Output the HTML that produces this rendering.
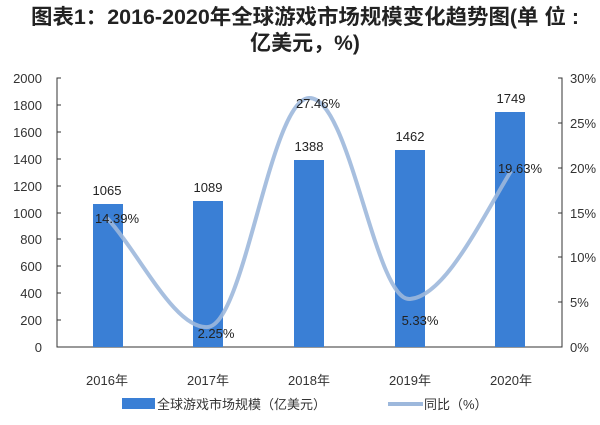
<!DOCTYPE html>
<html><head><meta charset="utf-8"><style>
body{margin:0;background:#fff;}
svg text{font-family:"Liberation Sans","Noto Sans CJK SC",sans-serif;}
</style></head><body>
<svg width="600" height="420" xmlns="http://www.w3.org/2000/svg">
<text x="305" y="24" text-anchor="middle" font-size="21" font-weight="bold" fill="#222" textLength="548" lengthAdjust="spacingAndGlyphs">图表1：2016-2020年全球游戏市场规模变化趋势图(单 位 :</text>
<text x="305" y="50" text-anchor="middle" font-size="21" font-weight="bold" fill="#222">亿美元，%)</text>
<g stroke="#333" stroke-width="1" fill="none">
<path d="M61,78 H57 V347 H562 V78 H558"/>
<path d="M57,105H61M57,132H61M57,159H61M57,186H61M57,213H61M57,239H61M57,266H61M57,293H61M57,320H61"/>
<path d="M562,123H558M562,168H558M562,213H558M562,257H558M562,302H558"/>
</g>
<g font-size="13" fill="#333" text-anchor="end">
<text x="42" y="83">2000</text><text x="42" y="110">1800</text><text x="42" y="137">1600</text><text x="42" y="164">1400</text><text x="42" y="191">1200</text><text x="42" y="218">1000</text><text x="42" y="244">800</text><text x="42" y="271">600</text><text x="42" y="298">400</text><text x="42" y="325">200</text><text x="42" y="352">0</text>
</g>
<g font-size="13" fill="#333">
<text x="570" y="83">30%</text><text x="570" y="128">25%</text><text x="570" y="173">20%</text><text x="570" y="218">15%</text><text x="570" y="262">10%</text><text x="570" y="307">5%</text><text x="570" y="352">0%</text>
</g>
<g fill="#3a7fd5">
<rect x="93" y="204" width="30" height="143"/>
<rect x="193" y="201" width="30" height="146"/>
<rect x="294" y="160" width="30" height="187"/>
<rect x="395" y="150" width="30" height="197"/>
<rect x="495" y="112" width="30" height="235"/>
</g>
<path d="M107,218 C140,254 175,330 208,327 C245,323 270,100 309,98 C350,96 375,302 410,299 C445,296 480,222 511,171" stroke="#9db8dc" stroke-width="4" fill="none" opacity="0.9"/>
<g font-size="13" fill="#222" text-anchor="middle">
<text x="107" y="195">1065</text><text x="208" y="192">1089</text><text x="309" y="151">1388</text><text x="410" y="141">1462</text><text x="511" y="103">1749</text>
<text x="117" y="223">14.39%</text><text x="216" y="338">2.25%</text><text x="318" y="108">27.46%</text><text x="420" y="325">5.33%</text><text x="520" y="173">19.63%</text>
</g>
<g font-size="13" fill="#333" text-anchor="middle">
<text x="107" y="385">2016年</text><text x="208" y="385">2017年</text><text x="309" y="385">2018年</text><text x="410" y="385">2019年</text><text x="511" y="385">2020年</text>
</g>
<rect x="122" y="398" width="33" height="11" fill="#3a7fd5"/>
<text x="157" y="409" font-size="13" fill="#333">全球游戏市场规模（亿美元）</text>
<line x1="388" y1="404" x2="423" y2="404" stroke="#9db8dc" stroke-width="4"/>
<text x="424" y="409" font-size="13" fill="#333">同比（%）</text>
</svg>
</body></html>
